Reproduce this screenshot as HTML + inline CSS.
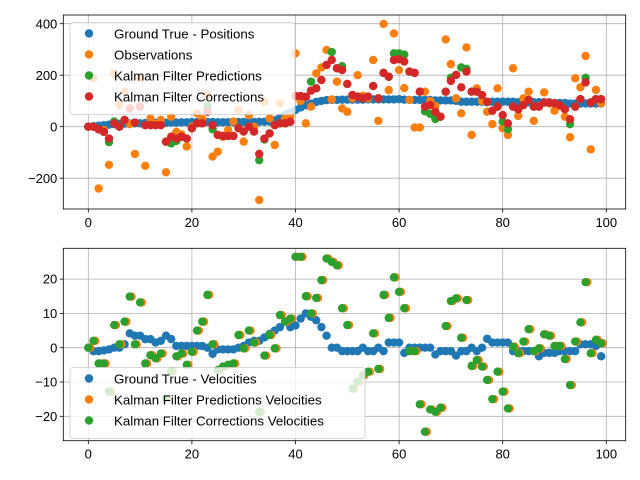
<!DOCTYPE html>
<html><head><meta charset="utf-8"><style>
body{margin:0;background:#fff;}
svg{display:block;font-family:"Liberation Sans","DejaVu Sans",sans-serif;}
</style></head><body>
<svg id="chart" width="640" height="480" viewBox="0 0 640 480"></svg>
<script>
const idx = Array.from({length:100},(_,i)=>i);
const xTicks = [0,20,40,60,80,100];
const posTicks = [-200,0,200,400];
const velTicks = [-20,-10,0,10,20];
const gtPos = [0,2,4,6,8,10,11,12,12,13,13,14,14,15,15,15,16,16,17,17,18,18,18,18,18,17,17,17,17,18,18,18,18,19,19,20,25,35,45,55,65,75,83,90,96,100,103,104,104,105,105,105,105,105,106,106,106,106,106,106,107,105,104,104,104,104,104,102,102,102,102,100,97,97,97,97,97,95,97,97,97,97,97,95,95,95,95,95,95,92,92,92,92,90,90,90,90,90,90,90];
const obsPos = [0,188,-240,-13,-148,207,84,136,10,-106,188,-152,32,10,26,-177,39,-20,-30,-77,0,52,30,123,-116,-97,-39,-13,20,65,-58,45,0,-285,97,32,-71,91,32,40,285,100,13,78,207,230,298,106,175,71,58,110,200,120,110,259,23,399,142,362,220,150,104,-3,-3,136,100,80,39,339,243,110,52,308,-32,149,100,58,10,149,-6,-32,227,42,110,136,23,80,133,90,62,80,39,-41,188,153,275,-88,143,91];
const predPos = [0,0,-10,-20,-60,20,0,26,71,16,78,6,6,6,6,-58,-65,-55,-39,-46,-6,13,13,80,-10,-32,-36,-36,-36,-6,-19,0,-19,-130,-50,-26,6,13,13,19,119,119,116,175,149,181,240,290,227,235,166,123,117,110,117,158,110,209,194,285,285,280,214,209,136,60,50,30,39,136,190,201,230,225,136,136,123,97,62,78,20,-10,78,68,84,104,78,78,94,94,91,84,68,10,78,107,190,94,107,107];
const corrPos = [0,0,-10,-20,-46,13,0,26,71,16,78,6,6,6,6,-58,-39,-46,-39,-46,-6,13,13,58,6,-32,-36,-36,-36,-6,-19,0,-19,-106,-46,-26,6,13,13,19,119,119,116,140,149,181,240,259,227,220,166,123,117,110,117,158,110,209,194,259,262,253,214,209,136,78,84,58,39,136,178,201,153,214,136,136,123,97,62,78,45,13,78,68,84,104,78,78,94,94,91,84,68,29,78,107,172,94,107,107];
const gtVel = [0,-1,-1,-0.8,-0.5,0,0,1,4.2,3.5,3.5,2.5,2.5,1.5,2,3.5,2.5,0.5,0.5,0.5,0.5,0.5,0.5,0,-1.8,-0.5,-0.5,-0.5,-0.5,0,0.5,1.5,2,2,3,4,5,6,7.6,6,6.5,8.5,10,9,8,6,3.5,0,0,-1,-1,-1,-1,0,-1,-1,0,-1,1.5,1.5,1.5,-1.5,0,0,0,0,0,-2,-1,-1,-1,-2.3,-1,-1,0,-1,0,2.6,1.5,1.5,1.5,1.5,-1,-1,-1,-1,-1,-2.5,-1.5,-1.5,-1.5,-1,-1,-1,-1,1,1,1,0.5,-2.5];
const predVel = [0,2,-4.6,-4.6,-12.8,6.6,1,7.6,14.9,1,13.2,-4.6,-2.2,-3.1,-1.7,-14.8,-6.8,-2.5,-1.7,-5,-1.2,5,7.6,15.4,1,-6.5,-5.5,-5,-4.6,3.7,-0.2,5,1.5,-18.7,-2.3,3.7,-0.2,9.5,7.6,8.5,26.5,26.5,15,10,14.5,19.7,26,25,24,11.5,6.6,-11.9,-9.9,-8,-7,4.2,-6.2,15.4,8.7,20.5,16.3,11.5,-1,-1,-16.5,-24.5,-18,-18.7,-17.5,6.3,13.6,14.4,2.9,13.9,-5.3,-3.6,-5.5,-9.4,-15,-7,-12.8,-17.7,0.3,-1.6,1.8,5.4,-1,-0.2,3.9,3.5,0.5,0.5,-3.3,-10.9,1.8,7.4,19.1,-1.6,2.3,1.3];
const corrVel = [0,2,-4.6,-4.6,-12.8,6.6,1,7.6,14.9,1,13.2,-4.6,-2.2,-3.1,-1.7,-14.8,-6.8,-2.5,-1.7,-5,-1.2,5,7.6,15.4,1,-6.5,-5.5,-5,-4.6,3.7,-0.2,5,1.5,-18.7,-2.3,3.7,-0.2,9.5,7.6,8.5,26.5,26.5,15,10,14.5,19.7,26,25,24,11.5,6.6,-11.9,-9.9,-8,-7,4.2,-6.2,15.4,8.7,20.5,16.3,11.5,-1,-1,-16.5,-24.5,-18,-18.7,-17.5,6.3,13.6,14.4,2.9,13.9,-5.3,-3.6,-5.5,-9.4,-15,-7,-12.8,-17.7,0.3,-1.6,1.8,5.4,-1,-0.2,3.9,3.5,0.5,0.5,-3.3,-10.9,1.8,7.4,19.1,-1.6,2.3,1.3];

const NS="http://www.w3.org/2000/svg";
const svg=document.getElementById('chart');
function mk(tag,attrs,parent){const e=document.createElementNS(NS,tag);for(const k in attrs)e.setAttribute(k,attrs[k]);(parent||svg).appendChild(e);return e;}
const L=63.3,R=625.7;
const xs=v=>88.3+v*5.18;
const fmt=t=>String(t).replace('-','\u2212');
function axes(top,bot,ys,yticks,name,clipId){
  const g=mk('g',{});
  
  
  const cp=mk('clipPath',{id:clipId},g);mk('rect',{x:L,y:top,width:R-L,height:bot-top},cp);
  xTicks.forEach(t=>{const x=xs(t);
    const gl=mk('line',{x1:x,x2:x,y1:top,y2:bot,stroke:'#b0b0b0','stroke-width':0.8},g);
    
    mk('line',{x1:x,x2:x,y1:bot,y2:bot+3.5,stroke:'#000','stroke-width':0.8},g);
    const tx=mk('text',{x:x,y:bot+18,'font-size':'13px','text-anchor':'middle',fill:'#000'},g);tx.textContent=fmt(t);
    });
  yticks.forEach(t=>{const y=ys(t);
    const gl=mk('line',{x1:L,x2:R,y1:y,y2:y,stroke:'#b0b0b0','stroke-width':0.8},g);
    
    mk('line',{x1:L-3.5,x2:L,y1:y,y2:y,stroke:'#000','stroke-width':0.8},g);
    const tx=mk('text',{x:L-6,y:y+4.6,'font-size':'13px','text-anchor':'end',fill:'#000'},g);tx.textContent=fmt(t);
    });
  return g;
}
function scatter(g,xArr,yArr,ys,color,name,clipId,dx){
  const s=mk('g',{'clip-path':'url(#'+clipId+')'},g);
  
  
  xArr.forEach((x,i)=>{const c=mk('circle',{cx:xs(x+(dx||0)),cy:ys(yArr[i]),r:4.2,fill:color},s);
    
    });
}
function frame(g,top,bot){mk('rect',{x:L,y:top,width:R-L,height:bot-top,fill:'none',stroke:'#000','stroke-width':0.8},g);}
function legend(g,x,y,w,entries){
  const h=entries.length*21+8;
  const lg=mk('g',{},g);
  
  
  mk('rect',{x:x,y:y,width:w,height:h,rx:3,fill:'#fff','fill-opacity':0.8,stroke:'#cccccc','stroke-width':0.8},lg);
  entries.forEach((e,i)=>{const cy=y+11+i*21;
    const eg=mk('g',{},lg);
    
    
    mk('circle',{cx:x+19,cy:cy,r:4.2,fill:e[1]},eg);
    const t=mk('text',{x:x+44,y:cy+4.8,'font-size':'13.3px',fill:'#000'},eg);t.textContent=e[0];});
}
const T1=15,B1=209,ysP=v=>126.7-v*0.2575;
const g1=axes(T1,B1,ysP,posTicks,'position-axes','clipTop');
scatter(g1,idx,gtPos,ysP,'#1f77b4','ground-truth-positions','clipTop');
scatter(g1,idx,obsPos,ysP,'#ff7f0e','observations','clipTop');
scatter(g1,idx,predPos,ysP,'#2ca02c','kf-predictions','clipTop');
scatter(g1,idx,corrPos,ysP,'#d62728','kf-corrections','clipTop');
frame(g1,T1,B1);
legend(g1,70,22.5,225,[['Ground True - Positions','#1f77b4'],['Observations','#ff7f0e'],['Kalman Filter Predictions','#2ca02c'],['Kalman Filter Corrections','#d62728']]);
const T2=248.3,B2=440.7,ysV=v=>347.7-v*3.43;
const g2=axes(T2,B2,ysV,velTicks,'velocity-axes','clipBot');
scatter(g2,idx,gtVel,ysV,'#1f77b4','ground-truth-velocities','clipBot');
scatter(g2,idx,predVel,ysV,'#ff7f0e','kf-prediction-velocities','clipBot',0.35);
scatter(g2,idx,corrVel,ysV,'#2ca02c','kf-correction-velocities','clipBot');
frame(g2,T2,B2);
legend(g2,70,367.5,295,[['Ground True - Velocities','#1f77b4'],['Kalman Filter Predictions Velocities','#ff7f0e'],['Kalman Filter Corrections Velocities','#2ca02c']]);
</script>
</body></html>
